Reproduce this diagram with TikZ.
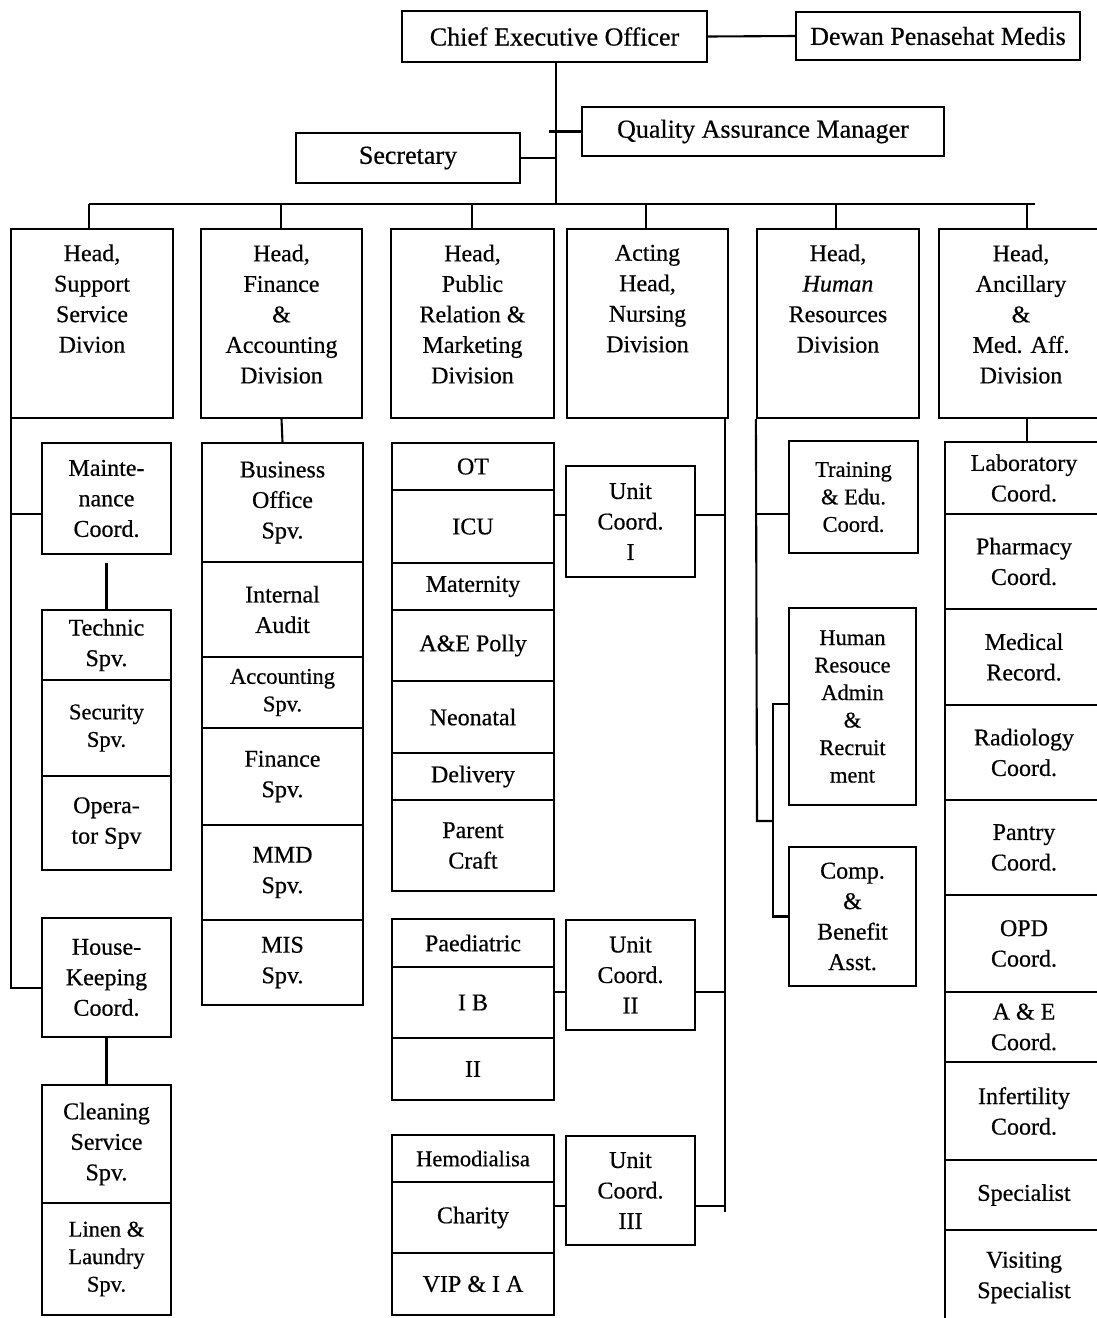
\documentclass[tikz,border=0pt]{standalone}
\usepackage{fontspec}
\setmainfont{Liberation Serif}[FakeBold=0.5]
% \orgbox[options]{name}{x1}{y1}{x2}{y2}{text}: a framed box given by its corners
\newcommand\orgbox[7][]{%
  \pgfmathsetmacro\bxc{(#3+#5)/2}%
  \pgfmathsetmacro\byc{(#4+#6)/2}%
  \pgfmathsetmacro\bxw{#5-#3}%
  \pgfmathsetmacro\bxh{#6-#4}%
  \node[box,minimum width=\bxw pt,minimum height=\bxh pt,#1] (#2) at (\bxc,\byc) {#7};}
\begin{document}
\begin{tikzpicture}[x=1pt,y=-1pt,
  box/.style={draw,line width=2.2pt,align=center,inner sep=0pt,
              font=\fontsize{24}{30.5}\selectfont},
  big/.style={font=\fontsize{26}{30}\selectfont},
  small/.style={font=\fontsize{22.5}{27.5}\selectfont},
  fiveline/.style={text depth=19pt},
  fourline/.style={text depth=50pt},
  link/.style={line width=2.1pt}]
\useasboundingbox[fill=white] (0,0) rectangle (1096,1318);

% ---- top management
\orgbox[big]{ceo}{402}{11}{707}{62}{Chief Executive Officer}
\orgbox[big]{dewan}{796}{12}{1080}{60}{Dewan Penasehat Medis}
\orgbox[big]{qa}{582}{107}{944}{156}{Quality Assurance Manager}
\orgbox[big]{sec}{296}{133}{520}{183}{Secretary}

\coordinate (busC) at (556,204);
\coordinate (busL) at (89,204);
\coordinate (busR) at (1035,204);
\draw[link] (ceo.east) -- (dewan.west);
\draw[link] (busC |- ceo.south) -- (busC);
\draw[link] ([xshift=-7pt]qa.west -| busC) -- (qa.west);
\draw[link] (sec.east) -- (sec.east -| busC);
\draw[link] (busL) -- (busR);

% ---- division heads
\orgbox[fourline]{sup}{11}{229}{173}{418}{Head,\\Support\\Service\\Divion}
\orgbox[fiveline]{fin}{201}{229}{362}{418}{Head,\\Finance\\\&\\Accounting\\Division}
\orgbox[fiveline]{pr}{391}{229}{554}{418}{Head,\\Public\\Relation \&\\Marketing\\Division}
\orgbox[fourline]{nurs}{567}{229}{728}{418}{Acting\\Head,\\Nursing\\Division}
\orgbox[fourline]{hr}{757}{229}{919}{418}{Head,\\\textit{Human}\\Resources\\Division}
\orgbox[fiveline]{anc}{939}{229}{1103}{418}{Head,\\Ancillary\\\&\\Med. Aff.\\Division}

\coordinate (d1) at (89,204);
\coordinate (d2) at (281,204);
\coordinate (d3) at (472,204);
\coordinate (d4) at (646,204);
\coordinate (d5) at (836,204);
\coordinate (d6) at (1027,204);
\foreach \d/\n in {d1/sup,d2/fin,d3/pr,d4/nurs,d5/hr,d6/anc}
  \draw[link] (\d) -- (\d |- \n.north);

% ---- support service
\orgbox{maint}{42}{443}{171}{554}{Mainte-\\nance\\Coord.}
\orgbox{tech}{42}{610}{171}{680}{Technic\\Spv.}
\orgbox[small]{secu}{42}{680}{171}{776}{Security\\Spv.}
\orgbox{oper}{42}{776}{171}{870}{Opera-\\tor Spv}
\orgbox{hk}{42}{918}{171}{1037}{House-\\Keeping\\Coord.}
\orgbox{clean}{42}{1085}{171}{1203}{Cleaning\\Service\\Spv.}
\orgbox[small]{linen}{42}{1203}{171}{1315}{Linen \&\\Laundry\\Spv.}

\draw[link] ([xshift=1pt]sup.south west) |- ([yshift=-15.5pt]maint.west);
\draw[link] ([xshift=1pt]sup.south west) |- ([yshift=-10.5pt]hk.west);
\draw[link] ([yshift=-8pt]maint.south) -- (tech.north);
\draw[link] (hk.south) -- (clean.north);

% ---- finance & accounting
\orgbox{bos}{202}{443}{363}{562}{Business\\Office\\Spv.}
\orgbox{ia}{202}{562}{363}{657}{Internal\\Audit}
\orgbox[small]{acc}{202}{657}{363}{728}{Accounting\\Spv.}
\orgbox{fspv}{202}{728}{363}{825}{Finance\\Spv.}
\orgbox{mmd}{202}{825}{363}{920}{MMD\\Spv.}
\orgbox{mis}{202}{920}{363}{1005}{MIS\\Spv.}
\draw[link] (fin.south) -- (bos.north);

% ---- nursing units
\orgbox{ot}{392}{443}{554}{490}{OT}
\orgbox{icu}{392}{490}{554}{563}{ICU}
\orgbox{mat}{392}{563}{554}{610}{Maternity}
\orgbox{ae}{392}{610}{554}{681}{A\&E Polly}
\orgbox{neo}{392}{681}{554}{753}{Neonatal}
\orgbox{del}{392}{753}{554}{800}{Delivery}
\orgbox{pc}{392}{800}{554}{891}{Parent\\Craft}

\orgbox{paed}{392}{919}{554}{967}{Paediatric}
\orgbox{ib}{392}{967}{554}{1038}{I B}
\orgbox{iib}{392}{1038}{554}{1100}{II}

\orgbox[small]{hemo}{392}{1135}{554}{1182}{Hemodialisa}
\orgbox{char}{392}{1182}{554}{1253}{Charity}
\orgbox{vip}{392}{1253}{554}{1315}{VIP \& I A}

\orgbox{u1}{566}{466}{695}{577}{Unit\\Coord.\\I}
\orgbox{u2}{566}{920}{695}{1030}{Unit\\Coord.\\II}
\orgbox{u3}{566}{1136}{695}{1245}{Unit\\Coord.\\III}

\coordinate (nvT) at (725,418);
\coordinate (nvB) at (725,1212);
\draw[link] (nvT) -- (nvB);
\draw[link] ([yshift=6.5pt]u1.east) -- ([yshift=6.5pt]u1.east -| nvT);
\draw[link] ([yshift=6.5pt]u1.west) -- ([yshift=6.5pt]u1.west -| icu.east);
\draw[link] ([yshift=-17pt]u2.east) -- ([yshift=-17pt]u2.east -| nvT);
\draw[link] ([yshift=-17pt]u2.west) -- ([yshift=-17pt]u2.west -| ib.east);
\draw[link] ([yshift=-15.5pt]u3.east) -- ([yshift=-15.5pt]u3.east -| nvT);
\draw[link] ([yshift=-15.5pt]u3.west) -- ([yshift=-15.5pt]u3.west -| char.east);

% ---- human resources
\orgbox[small]{train}{789}{441}{918}{553}{Training\\\& Edu.\\Coord.}
\orgbox[small]{hradm}{789}{608}{916}{805}{Human\\Resouce\\Admin\\\&\\Recruit\\ment}
\orgbox{comp}{789}{847}{916}{986}{Comp.\\\&\\Benefit\\Asst.}

\coordinate (hrJ) at (757,821);
\coordinate (hrK) at (773,821);
\draw[link] (hr.south west) |- ([yshift=-17pt]train.west);
\draw[link] (hr.south west) -- (hrJ) -- (hrK);
\draw[link] ([yshift=2.5pt]hradm.west) -| (hrK) |- (comp.west);

% ---- ancillary & medical affairs
\orgbox{lab}{945}{442}{1103}{514}{Laboratory\\Coord.}
\orgbox{pha}{945}{514}{1103}{609}{Pharmacy\\Coord.}
\orgbox{med}{945}{609}{1103}{705}{Medical\\Record.}
\orgbox{rad}{945}{705}{1103}{800}{Radiology\\Coord.}
\orgbox{pan}{945}{800}{1103}{895}{Pantry\\Coord.}
\orgbox{opd}{945}{895}{1103}{992}{OPD\\Coord.}
\orgbox{aec}{945}{992}{1103}{1062}{A \& E\\Coord.}
\orgbox{inf}{945}{1062}{1103}{1160}{Infertility\\Coord.}
\orgbox{spc}{945}{1160}{1103}{1230}{Specialist}
\orgbox{vis}{945}{1230}{1103}{1325}{Visiting\\Specialist}
\draw[link] (d6 |- anc.south) -- (d6 |- lab.north);
\end{tikzpicture}
\end{document}
